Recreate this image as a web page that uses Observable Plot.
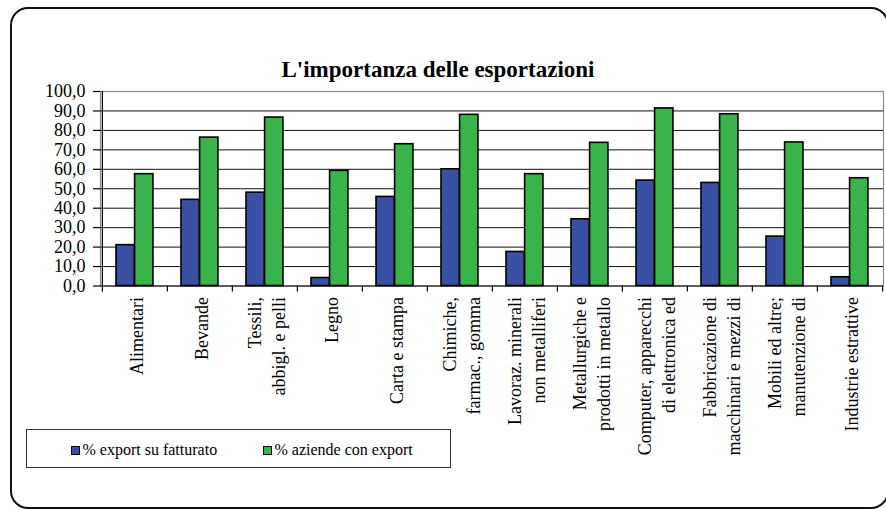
<!DOCTYPE html>
<html>
<head>
<meta charset="utf-8">
<script src="https://cdn.jsdelivr.net/npm/d3@7"></script>
<script src="https://cdn.jsdelivr.net/npm/@observablehq/plot@0.6"></script>
<style>
  html, body { margin: 0; padding: 0; background: #fff; }
  body { width: 886px; height: 510px; position: relative; overflow: hidden; font-family: "Liberation Serif", "Times New Roman", serif; }
  #border { position: absolute; left: 10px; top: 7px; width: 879px; height: 502px; box-sizing: border-box; border: 2.5px solid #111; border-radius: 18px; }
  #title { position: absolute; left: 0; top: 58px; width: 876px; text-align: center; font-weight: bold; font-size: 23px; line-height: 23px; color: #000; }
  #chart { position: absolute; left: 0; top: 0; }
  #legend { position: absolute; left: 26px; top: 429px; width: 425px; height: 39px; box-sizing: border-box; border: 1px solid #333; background: #fff; }
  .sw { position: absolute; width: 7px; height: 7px; border: 1px solid #000; box-sizing: content-box; }
  .lt { position: absolute; font-size: 16px; line-height: 16px; color: #000; white-space: nowrap; }
</style>
</head>
<body>
<div id="border"></div>
<div id="chart"></div>
<div id="title">L'importanza delle esportazioni</div>
<div id="legend"></div>
<script>
const categories = [
  "Alimentari",
  "Bevande",
  "Tessili,\nabbigl. e pelli",
  "Legno",
  "Carta e stampa",
  "Chimiche,\nfarmac., gomma",
  "Lavoraz. minerali\nnon metalliferi",
  "Metallurgiche e\nprodotti in metallo",
  "Computer, apparecchi\ndi elettronica ed",
  "Fabbricazione di\nmacchinari e mezzi di",
  "Mobili ed altre;\nmanutenzione di",
  "Industrie estrattive"
];
const exportFatturato = [21.0, 44.3, 48.0, 4.1, 45.8, 60.0, 17.5, 34.3, 54.2, 53.0, 25.4, 4.5];
const aziendeExport   = [57.5, 76.3, 86.6, 59.2, 72.9, 88.0, 57.5, 73.6, 91.3, 88.3, 73.8, 55.4];
const seriesNames = ["% export su fatturato", "% aziende con export"];
const seriesColors = ["#3a50a2", "#39b44a"];
const yTicks = [0, 10, 20, 30, 40, 50, 60, 70, 80, 90, 100];

const data = categories.map((c, i) => ({cat: c, a: exportFatturato[i], b: aziendeExport[i]}));

const W = 886, H = 450;
const mL = 100, mR = 3, mT = 91, mB = H - 285.5;
const step = (W - mL - mR) / categories.length;

const fmt = d => d.toFixed(1).replace(".", ",");

const chart = Plot.plot({
  width: W,
  height: H,
  marginLeft: mL,
  marginRight: mR,
  marginTop: mT,
  marginBottom: mB,
  style: {fontFamily: "'Liberation Serif', 'Times New Roman', serif", fontSize: "18px", background: "transparent", color: "#000", overflow: "visible"},
  x: {domain: categories, padding: 0, axis: null, label: null},
  y: {domain: [0, 100], axis: null, label: null},
  marks: [
    Plot.frame({stroke: "#8c8c8c", strokeWidth: 1.2}),
    Plot.ruleY(yTicks.slice(1, -1), {stroke: "#111", strokeWidth: 1}),
    Plot.barY(data, {x: "cat", y: "a", fill: seriesColors[0], stroke: "#000", strokeWidth: 1.6, insetLeft: 14, insetRight: step - 32.6}),
    Plot.barY(data, {x: "cat", y: "b", fill: seriesColors[1], stroke: "#000", strokeWidth: 1.6, insetLeft: 32.6, insetRight: step - 51.2}),
    Plot.ruleY([0], {stroke: "#000", strokeWidth: 1.2}),
    Plot.ruleX([categories[0]], {x: d => d, y1: 0, y2: 100, dx: -step / 2, stroke: "#000", strokeWidth: 1.2}),
    Plot.axisY({ticks: yTicks, tickFormat: fmt, tickSize: 7, tickPadding: 8, fontSize: 18, stroke: "#000", strokeWidth: 1.2, label: null}),
    Plot.axisX({ticks: categories, tickFormat: () => "", tickSize: 6, dx: -step / 2, stroke: "#000", strokeWidth: 1.2, label: null}),
    Plot.axisX({ticks: [categories[categories.length - 1]], tickFormat: () => "", tickSize: 6, dx: step / 2, stroke: "#000", strokeWidth: 1.2, label: null}),
    Plot.axisX({ticks: categories, tickSize: 0, tickPadding: 11, tickRotate: -90, fontSize: 18, lineHeight: 1.33, label: null})
  ]
});
document.getElementById("chart").appendChild(chart);

const legend = document.getElementById("legend");
const swX = [44, 235.5];
const txX = [55.5, 247.5];
seriesNames.forEach((name, i) => {
  const sw = document.createElement("div");
  sw.className = "sw";
  sw.style.left = swX[i] + "px";
  sw.style.top = "15.5px";
  sw.style.background = seriesColors[i];
  legend.appendChild(sw);
  const t = document.createElement("div");
  t.className = "lt";
  t.style.left = txX[i] + "px";
  t.style.top = "12px";
  t.textContent = name;
  legend.appendChild(t);
});
</script>
</body>
</html>
